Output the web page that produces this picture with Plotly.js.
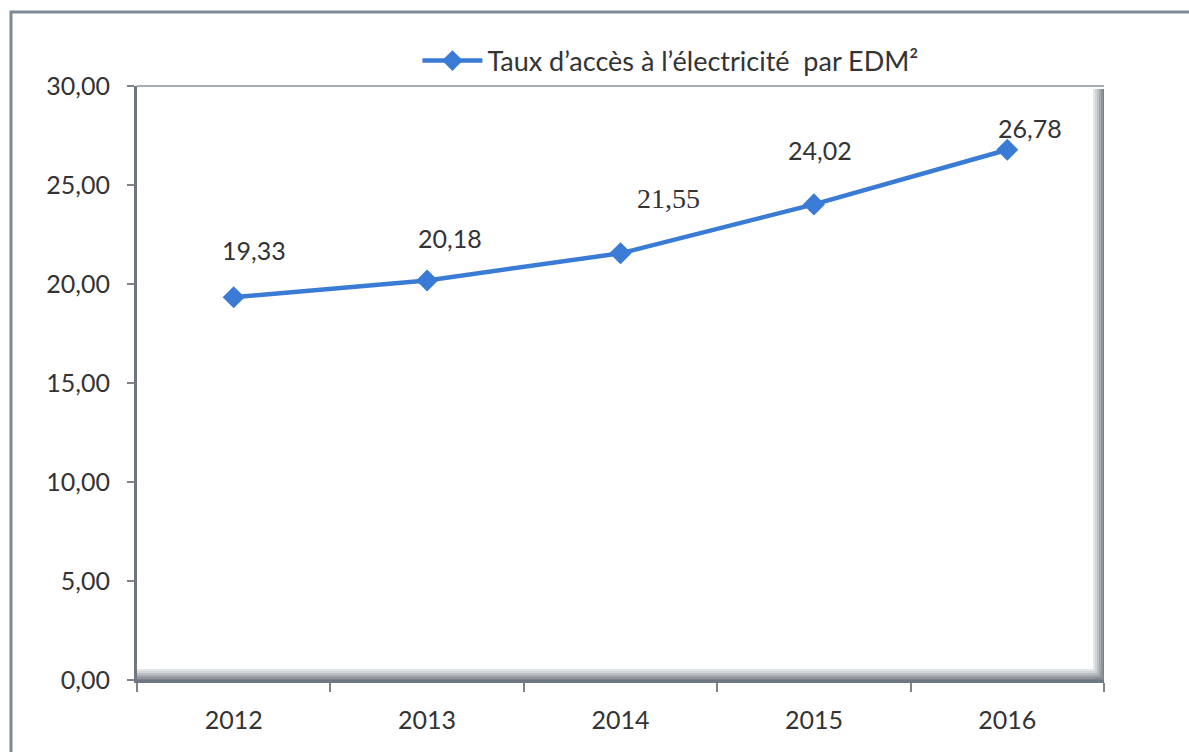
<!DOCTYPE html>
<html><head><meta charset="utf-8">
<script src="https://cdn.plot.ly/plotly-3.0.1.min.js"></script>
<style>html,body{margin:0;padding:0;background:#fff}#chart{width:1189px;height:752px}</style>
</head><body><div id="chart"></div>
<script>
const years = ["2012","2013","2014","2015","2016"];
const taux = [19.33, 20.18, 21.55, 24.02, 26.78];
const labels = ["19,33","20,18","21,55","24,02","26,78"];
const seriesName = "Taux d’accès à l’électricité  par EDM²";
const yTicks = [0,5,10,15,20,25,30];
const yTickText = ["0,00","5,00","10,00","15,00","20,00","25,00","30,00"];

// label placement styling (pixel offsets)
const labelShiftX = [20, 23, 48, 6, 23];
const labelShiftY = [47, 42, 55, 54, 22];
const labelSerif = [false, false, true, false, false];

const blue = "#3a7bd5";
const trace = {
  x: years, y: taux, type: "scatter", mode: "lines+markers", name: seriesName,
  line: {color: blue, width: 4.5},
  marker: {symbol: "diamond", size: 17, color: blue}
};

const annotations = years.map((yr, i) => ({
  xref: "x", yref: "y",
  x: i, y: taux[i],
  text: labelSerif[i]
    ? '<span style="font-family:\'Liberation Serif\',serif;font-size:28px">' + labels[i] + '</span>'
    : labels[i],
  showarrow: false,
  xshift: labelShiftX[i], yshift: labelShiftY[i],
  font: {family: "Lato", size: 25, color: "#333"}
}));

// frame shapes
const shapes = [];
shapes.push({type:"rect", xref:"paper", yref:"paper", x0:-0.1303, x1:1.2, y0:-0.2, y1:1.1246,
  line:{color:"#7d8a95", width:3}, fillcolor:"rgba(0,0,0,0)", layer:"below"});
shapes.push({type:"line", xref:"paper", yref:"paper", x0:0, x1:1, y0:1, y1:1, line:{color:"#a7adb3", width:2}});
const bandCols = ["#e4e7ea","#d0d4d8","#b9bec3","#a2a8ae","#8c939a","#7a8189"];
const h = 11/594, w = 11/967;
bandCols.forEach((c, k) => {
  shapes.push({type:"rect", xref:"paper", yref:"paper", x0:0, x1:1 - w*0.2,
    y0: h*(bandCols.length-1-k)/bandCols.length, y1: h*(bandCols.length-k)/bandCols.length,
    line:{width:0}, fillcolor:c, layer:"below"});
  shapes.push({type:"rect", xref:"paper", yref:"paper",
    x0: 1 - w*(bandCols.length-k)/bandCols.length, x1: 1 - w*(bandCols.length-1-k)/bandCols.length,
    y0:0, y1:0.995, line:{width:0}, fillcolor:c, layer:"below"});
});

const layout = {
  width: 1189, height: 752,
  margin: {l:137, r:85, t:86, b:72},
  paper_bgcolor: "#fff", plot_bgcolor: "#fff",
  font: {family: "Lato", color: "#333"},
  showlegend: true,
  legend: {orientation:"h", x:0.29, y:1.042, xanchor:"left", yanchor:"middle",
    itemwidth: 60,
    font:{family:"Lato", size:27, color:"#333"}, bgcolor:"rgba(0,0,0,0)"},
  xaxis: {type:"category", range:[-0.5, 4.5], tickson:"boundaries", ticks:"outside", ticklen:9,
    tickwidth:2, tickcolor:"#7d858c", showline:true, linecolor:"#6f7880", linewidth:3,
    showgrid:false, zeroline:false, tickfont:{family:"Lato", size:25, color:"#333"}, ticklabelstandoff: 16},
  yaxis: {range:[0,30], tickvals:yTicks, ticktext:yTickText, ticks:"outside", ticklen:7,
    tickwidth:2, tickcolor:"#7d858c", showline:true, linecolor:"#6f7880", linewidth:3,
    showgrid:false, zeroline:false, tickfont:{family:"Lato", size:25, color:"#333"}, ticklabelstandoff: 12},
  shapes: shapes,
  annotations: annotations
};
Plotly.newPlot("chart", [trace], layout, {displayModeBar:false, staticPlot:true});
</script></body></html>
